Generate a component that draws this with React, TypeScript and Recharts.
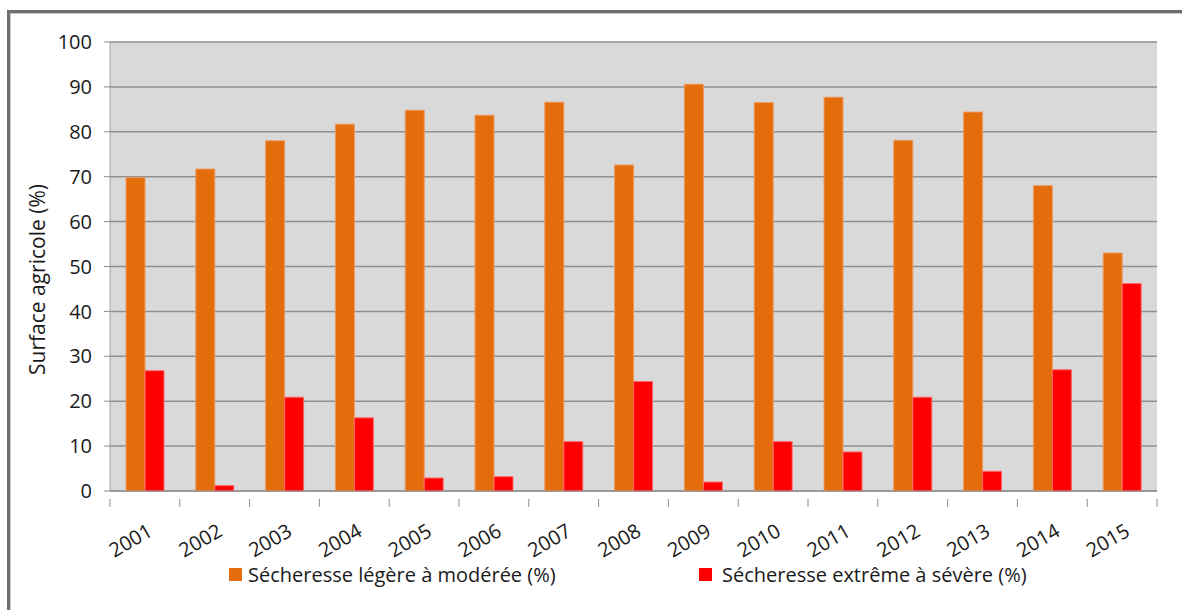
import React from 'react';
import { BarChart, Bar, XAxis, YAxis, CartesianGrid, Legend } from 'recharts';

const years = ['2001', '2002', '2003', '2004', '2005', '2006', '2007', '2008', '2009', '2010', '2011', '2012', '2013', '2014', '2015'];
const legere = [69.8, 71.7, 78.0, 81.7, 84.8, 83.7, 86.6, 72.6, 90.6, 86.5, 87.7, 78.1, 84.4, 68.0, 53.0];
const extreme = [26.8, 1.2, 20.9, 16.3, 2.9, 3.2, 11.0, 24.4, 2.0, 11.0, 8.7, 20.9, 4.4, 27.0, 46.2];
const yTicks = [0, 10, 20, 30, 40, 50, 60, 70, 80, 90, 100];

const LABEL_LEGERE = 'Sécheresse légère à modérée (%)';
const LABEL_EXTREME = 'Sécheresse extrême à sévère (%)';

const data = years.map((year, i) => ({ year, legere: legere[i], extreme: extreme[i] }));

const FONT = '"Open Sans", "Liberation Sans", sans-serif';
const TEXT = '#1a1a1a';
const AXIS = '#8c8c8c';

const W = 1182;
const H = 610;
const PLOT_W = 1157 - 110;

function YearTick(props: any) {
  const { x, y, payload, index } = props;
  const half = payload && payload.offset ? payload.offset : PLOT_W / years.length / 2;
  const last = index === years.length - 1;
  return (
    <g>
      <line x1={x - half} y1={y} x2={x - half} y2={y + 8} stroke={AXIS} strokeWidth={1} />
      {last && <line x1={x + half} y1={y} x2={x + half} y2={y + 8} stroke={AXIS} strokeWidth={1} />}
      <text
        x={x + 9}
        y={y + 36}
        textAnchor="end"
        transform={`rotate(-30, ${x + 9}, ${y + 36})`}
        fill={TEXT}
        fontSize={20}
        fontFamily={FONT}
      >
        {payload.value}
      </text>
    </g>
  );
}

function ChartLegend() {
  const items = [
    { label: LABEL_LEGERE, color: '#E46C0A' },
    { label: LABEL_EXTREME, color: '#FF0000' },
  ];
  return (
    <div
      style={{
        display: 'flex',
        paddingLeft: 229,
        fontFamily: FONT,
        fontSize: 20,
        color: TEXT,
        transform: 'translateY(-9px)',
      }}
    >
      {items.map((it, i) => (
        <div key={it.label} style={{ display: 'flex', alignItems: 'center', width: i === 0 ? 470 : 'auto' }}>
          <span style={{ display: 'inline-block', width: 13, height: 13, background: it.color, marginRight: i === 0 ? 6 : 10 }} />
          <span>{it.label}</span>
        </div>
      ))}
    </div>
  );
}

export default function App() {
  return (
    <div style={{ position: 'fixed', left: 0, top: 0, width: W, height: H, background: '#fff', overflow: 'hidden' }}>
      <div
        style={{
          position: 'absolute',
          left: 7,
          top: 10,
          width: 1400,
          height: 800,
          borderTop: '3px solid #6e6e6e',
          borderLeft: '3px solid #6e6e6e',
          boxShadow: 'inset 1px 1px 0 #c8c8c8',
        }}
      />
      <div style={{ position: 'absolute', left: 0, top: 0 }}>
        <BarChart
          width={W}
          height={H}
          data={data}
          margin={{ top: 42, right: 25, left: 0, bottom: 0 }}
          barSize={19}
          barGap={0}
        >
          <CartesianGrid vertical={false} fill="#D9D9D9" stroke="#8f8f8f" strokeWidth={1.5} />
          <XAxis
            dataKey="year"
            height={79}
            axisLine={{ stroke: AXIS }}
            tickLine={false}
            tick={<YearTick />}
            interval={0}
          />
          <YAxis
            domain={[0, 100]}
            ticks={yTicks}
            width={110}
            axisLine={{ stroke: '#a6a6a6' }}
            tickLine={{ stroke: AXIS }}
            tickSize={6}
            tickMargin={12}
            tick={{ fill: TEXT, fontSize: 20, fontFamily: FONT }}
            label={{
              value: 'Surface agricole (%)',
              angle: -90,
              position: 'center',
              dx: -17,
              dy: 13,
              style: { fill: TEXT, fontSize: 21, fontFamily: FONT, textAnchor: 'middle' },
            }}
          />
          <YAxis
            yAxisId="frame"
            orientation="right"
            domain={[0, 100]}
            width={0}
            tick={false}
            tickLine={false}
            axisLine={{ stroke: '#b4b4b4' }}
          />
          <Legend verticalAlign="bottom" height={40} content={<ChartLegend />} />
          <Bar dataKey="legere" name={LABEL_LEGERE} fill="#E46C0A" stroke="#EE9A60" strokeWidth={1} isAnimationActive={false} />
          <Bar dataKey="extreme" name={LABEL_EXTREME} fill="#FF0000" stroke="#FF6A6A" strokeWidth={1} isAnimationActive={false} />
        </BarChart>
      </div>
    </div>
  );
}
